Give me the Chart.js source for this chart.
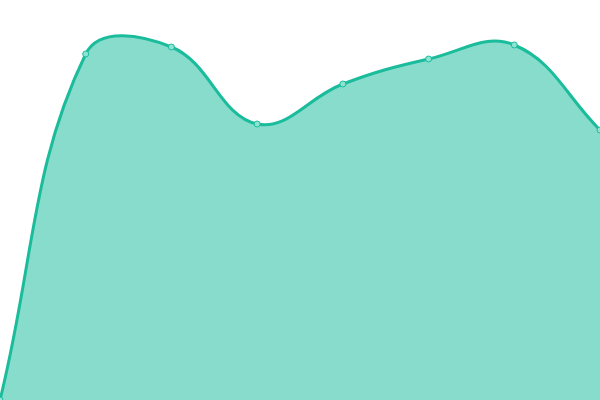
<!DOCTYPE html>
<html lang="en">
  <head>
    <meta charset="UTF-8" />
    <title>Area chart</title>
    <script src="https://cdn.jsdelivr.net/npm/chart.js"></script>
    <style>
      html, body { margin: 0; padding: 0; background: #fff; }
      #wrap { width: 600px; height: 400px; position: relative; }
    </style>
  </head>
  <body>
    <div id="wrap"><canvas id="areaChart"></canvas></div>
    <script>
      // data
      const labels = ["1", "2", "3", "4", "5", "6", "7", "8"];
      const values = [0, 346, 353, 276, 316, 341, 355, 270];

      const ctx = document.getElementById("areaChart").getContext("2d");
      new Chart(ctx, {
        type: "line",
        data: {
          labels: labels,
          datasets: [
            {
              data: values,
              borderColor: "#1abc9c",
              backgroundColor: "rgba(26, 188, 156, 0.52)",
              borderWidth: 3,
              fill: true,
              tension: 0.4,
              pointRadius: 3,
              pointBorderWidth: 1,
              pointBackgroundColor: "#8ee3d2",
              pointBorderColor: "#1abc9c",
            },
          ],
        },
        options: {
          responsive: true,
          maintainAspectRatio: false,
          animation: false,
          layout: { padding: 0, autoPadding: false },
          plugins: { legend: { display: false }, tooltip: { enabled: false } },
          scales: {
            x: { display: false },
            y: { display: false, min: 0, max: 400 },
          },
        },
      });
    </script>
  </body>
</html>
